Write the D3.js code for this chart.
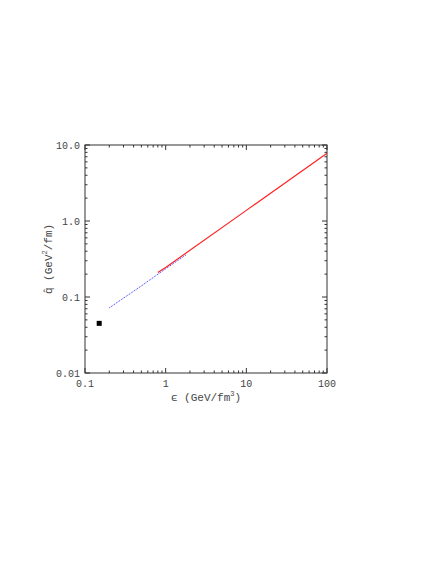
<!DOCTYPE html>
<html><head><meta charset="utf-8">
<script src="https://cdn.jsdelivr.net/npm/d3@7"></script>
<style>body{margin:0;background:#fff}text{font-family:"Liberation Mono",monospace;fill:#444}</style>
</head><body>
<svg id="c" width="436" height="564"></svg>
<script>
const xDomain=[0.1,100], yDomain=[0.01,10];
const xTicks=[0.1,1,10,100], xTickLabels=["0.1","1","10","100"];
const yTicks=[0.01,0.1,1,10], yTickLabels=["0.01","0.1","1.0","10.0"];
const blueEps=[0.2,0.5,1.0,1.8], blueQ=[0.072,0.14,0.235,0.36];
const redEps=[0.8,1,10,100], redQ=[0.21,0.245,1.38,7.8];
const pointEps=[0.15], pointQ=[0.045];

const svg=d3.select("#c");
const L=85,R=327,T=145,B=373;
const x=d3.scaleLog().domain(xDomain).range([L,R]);
const y=d3.scaleLog().domain(yDomain).range([B,T]);
svg.append("rect").attr("x",L).attr("y",T).attr("width",R-L).attr("height",B-T).attr("fill","none").attr("stroke","#333").attr("stroke-width",1);
const minorX=[],minorY=[];
for(let d=0.1;d<100;d*=10)for(let k=2;k<10;k++)minorX.push(d*k);
for(let d=0.01;d<10;d*=10)for(let k=2;k<10;k++)minorY.push(d*k);
const g=svg.append("g").attr("stroke","#333");
xTicks.forEach(v=>{g.append("line").attr("x1",x(v)).attr("x2",x(v)).attr("y1",B).attr("y2",B-5);g.append("line").attr("x1",x(v)).attr("x2",x(v)).attr("y1",T).attr("y2",T+5);});
minorX.forEach(v=>{g.append("line").attr("x1",x(v)).attr("x2",x(v)).attr("y1",B).attr("y2",B-2.5);g.append("line").attr("x1",x(v)).attr("x2",x(v)).attr("y1",T).attr("y2",T+2.5);});
yTicks.forEach(v=>{g.append("line").attr("y1",y(v)).attr("y2",y(v)).attr("x1",L).attr("x2",L+5);g.append("line").attr("y1",y(v)).attr("y2",y(v)).attr("x1",R).attr("x2",R-5);});
minorY.forEach(v=>{g.append("line").attr("y1",y(v)).attr("y2",y(v)).attr("x1",L).attr("x2",L+2.5);g.append("line").attr("y1",y(v)).attr("y2",y(v)).attr("x1",R).attr("x2",R-2.5);});
xTicks.forEach((v,i)=>svg.append("text").attr("x",x(v)).attr("y",B+14).attr("text-anchor","middle").attr("font-size",10).text(xTickLabels[i]));
yTicks.forEach((v,i)=>svg.append("text").attr("x",L-5).attr("y",y(v)+3.5).attr("text-anchor","end").attr("font-size",10).text(yTickLabels[i]));
const xl=svg.append("text").attr("x",206).attr("y",401).attr("text-anchor","middle").attr("font-size",11);
xl.append("tspan").text("ϵ (GeV/fm");xl.append("tspan").attr("dy",-5).attr("font-size",7).text("3");xl.append("tspan").attr("dy",5).text(")");
const yl=svg.append("text").attr("transform","translate(52,259) rotate(-90)").attr("text-anchor","middle").attr("font-size",11);
yl.append("tspan").text("q\u0302  (GeV");yl.append("tspan").attr("dy",-5).attr("font-size",7).text("2");yl.append("tspan").attr("dy",5).text("/fm)");
const line=d3.line().x(d=>x(d[0])).y(d=>y(d[1]));
svg.append("path").attr("d",line(blueEps.map((e,i)=>[e,blueQ[i]]))).attr("fill","none").attr("stroke","#3030ff").attr("stroke-width",1).attr("stroke-dasharray","1,1");
svg.append("path").attr("d",line(d3.zip(redEps,redQ))).attr("fill","none").attr("stroke","#ff2020").attr("stroke-width",1.2);
pointEps.forEach((e,i)=>svg.append("rect").attr("x",x(e)-2.5).attr("y",y(pointQ[i])-2.5).attr("width",5).attr("height",5).attr("fill","#000"));
</script></body></html>
